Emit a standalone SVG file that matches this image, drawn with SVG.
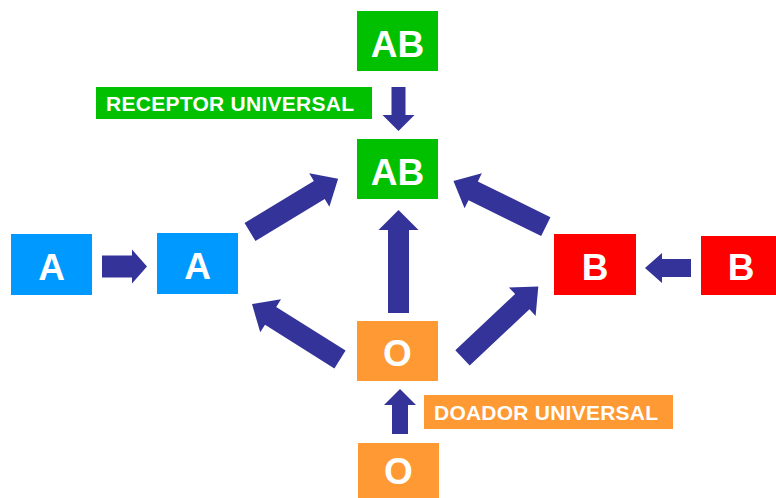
<svg xmlns="http://www.w3.org/2000/svg" width="776" height="498" viewBox="0 0 776 498">
<style>
.g{fill:#00c000}.b{fill:#0099ff}.r{fill:#ff0000}.o{fill:#ff9933}
.t{font-family:"Liberation Sans",Arial,sans-serif;font-weight:bold;fill:#fff;text-anchor:middle;font-size:37px}
.l{font-family:"Liberation Sans",Arial,sans-serif;font-weight:bold;fill:#fff;font-size:21px}
.arr{fill:#33339a}
</style>
<rect width="776" height="498" fill="#fff"/>
<g id="connectors">
<path class="arr" transform="translate(250,232) rotate(-31.2)" d="M0,-10.5H81V-19.5L103,0L81,19.5V10.5H0Z"/>
<path class="arr" transform="translate(545.8,226.7) rotate(-153.7)" d="M0,-10.5H81V-19.5L103,0L81,19.5V10.5H0Z"/>
<path class="arr" transform="translate(398.5,313) rotate(-90)" d="M0,-10.5H83V-20L103,0L83,20V10.5H0Z"/>
<path class="arr" transform="translate(340,359.5) rotate(-147.8)" d="M0,-10.5H82V-19.5L104,0L82,19.5V10.5H0Z"/>
<path class="arr" transform="translate(462.5,357.8) rotate(-43.2)" d="M0,-10.5H82V-19.5L104,0L82,19.5V10.5H0Z"/>
<path class="arr" transform="translate(102,266.5) rotate(0)" d="M0,-11H30V-17L45,0L30,17V11H0Z"/>
<path class="arr" transform="translate(691,268) rotate(180)" d="M0,-9H29V-15L46,0L29,15V9H0Z"/>
<path class="arr" transform="translate(398.5,87) rotate(90)" d="M0,-7H28V-16L44,0L28,16V7H0Z"/>
<path class="arr" transform="translate(400,434) rotate(-90)" d="M0,-8H29V-16L45,0L29,16V8H0Z"/>
</g>
<g id="ab-top"><rect class="g" x="357" y="11" width="81" height="60"/><text class="t" x="397.5" y="57">AB</text></g>
<g id="receptor-label"><rect class="g" x="96" y="87" width="276" height="32"/><text class="l" x="106" y="110.5" textLength="248">RECEPTOR UNIVERSAL</text></g>
<g id="ab-mid"><rect class="g" x="357" y="139" width="81" height="60"/><text class="t" x="397.5" y="185">AB</text></g>
<g id="a-left"><rect class="b" x="11" y="234" width="81" height="61"/><text class="t" x="51.5" y="280">A</text></g>
<g id="a-mid"><rect class="b" x="157" y="233" width="81" height="61"/><text class="t" x="197.5" y="279">A</text></g>
<g id="b-mid"><rect class="r" x="554" y="234" width="82" height="61"/><text class="t" x="595" y="280">B</text></g>
<g id="b-right"><rect class="r" x="701" y="236" width="75" height="59"/><text class="t" x="741" y="280">B</text></g>
<g id="o-mid"><rect class="o" x="357" y="321" width="81" height="60"/><text class="t" x="397.5" y="366">O</text></g>
<g id="doador-label"><rect class="o" x="424" y="395" width="249" height="34"/><text class="l" x="434" y="419.5" textLength="224">DOADOR UNIVERSAL</text></g>
<g id="o-bottom"><rect class="o" x="358" y="443" width="81" height="55"/><text class="t" x="398.5" y="484">O</text></g>
</svg>
